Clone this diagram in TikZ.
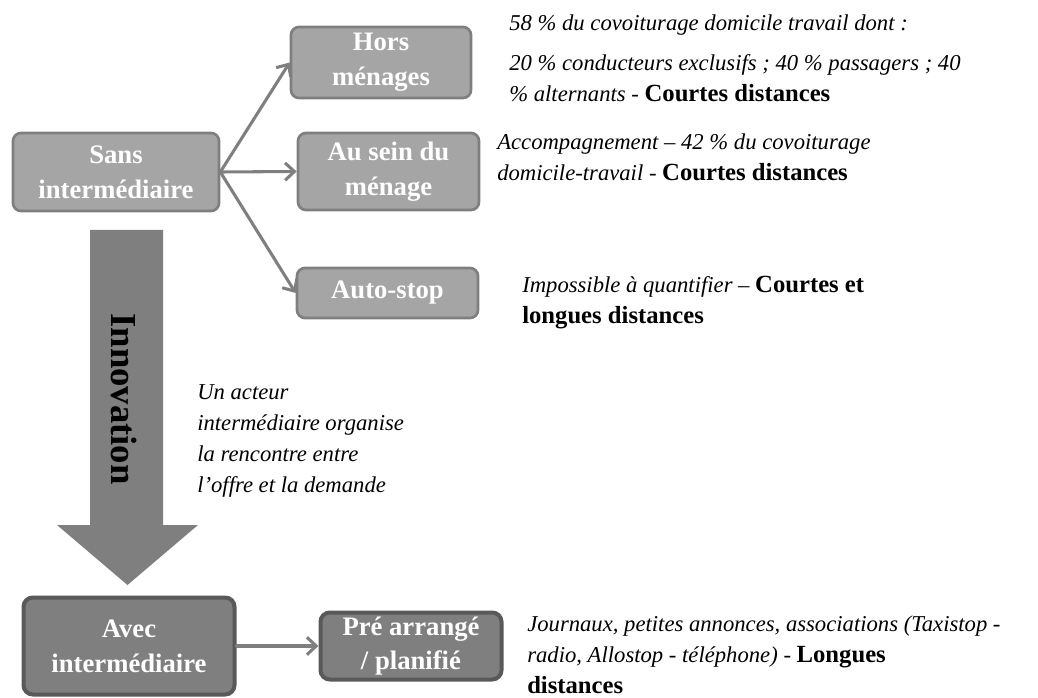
\documentclass[tikz,border=0pt]{standalone}
\usepackage{fontspec}
\setmainfont{Liberation Serif}
\usetikzlibrary{arrows.meta}
\definecolor{lightbox}{HTML}{A5A5A5}
\definecolor{lightedge}{HTML}{7F7F7F}
\definecolor{darkbox}{HTML}{7F7F7F}
\definecolor{darkedge}{HTML}{595959}
\definecolor{arrowgray}{HTML}{7F7F7F}
\newcommand\bdtext[1]{{\fontsize{18.5}{23.3}\selectfont\bfseries\upshape #1}}
\tikzset{
  lbox/.style={draw=lightedge, fill=lightbox, line width=2pt, rounded corners=6pt,
    text=white, align=center, inner sep=2pt,
    font=\fontsize{20}{26}\selectfont\bfseries},
  dbox/.style={draw=darkedge, fill=darkbox, line width=3pt, rounded corners=7pt,
    text=white, align=center, inner sep=2pt,
    font=\fontsize{20}{26}\selectfont\bfseries},
  conn/.style={draw=arrowgray, line width=2.3pt, line cap=round,
    -{Straight Barb[length=7pt,width=13pt,line width=2.3pt]}},
  note/.style={anchor=west, align=left, inner sep=0pt, text=black,
    font=\fontsize{17}{23.3}\selectfont\itshape}
}
\begin{document}
\begin{tikzpicture}[x=0.75pt,y=-0.75pt]
\useasboundingbox (0,0) rectangle (1038,698);
% big innovation arrow
\fill[arrowgray] (90,230) -- (163,230) -- (163,525) -- (198,525) -- (127.5,585)
  -- (57,525) -- (90,525) -- cycle;
\node[rotate=-90, font=\fontsize{27.5}{30}\selectfont\bfseries, text=black] (innov) at (124,399) {Innovation};
% boxes
\node[lbox, minimum width=206*0.75pt, minimum height=78*0.75pt] (sans) at (116,172) {Sans\\interm\'ediaire};
\node[lbox, minimum width=180*0.75pt, minimum height=71*0.75pt] (hors) at (381,62.5) {Hors\\m\'enages};
\node[lbox, minimum width=181*0.75pt, minimum height=77*0.75pt] (sein) at (388.5,171.5) {Au sein du\\m\'enage};
\node[lbox, minimum width=181*0.75pt, minimum height=50*0.75pt] (auto) at (387.5,293) {Auto-stop};
\node[dbox, minimum width=211*0.75pt, minimum height=97*0.75pt] (avec) at (129,646) {Avec\\interm\'ediaire};
\node[dbox, minimum width=181*0.75pt, minimum height=67*0.75pt] (pre) at (411,646) {Pr\'e arrang\'e\\/ planifi\'e};
% connectors
\draw[conn] (sans.east) -- (hors.west);
\draw[conn] (sans.east) -- (sein.west);
\draw[conn] (sans.east) -- (auto.west);
\draw[conn] (avec.east) -- (pre.west);
% notes
\node[note] (n1) at (509,25) {58 \% du covoiturage domicile travail dont :};
\node[note] (n2) at (509,78) {20 \% conducteurs exclusifs ; 40 \% passagers ; 40\\\% alternants - \bdtext{Courtes distances}};
\node[note] (n3) at (497,157) {Accompagnement -- 42 \% du covoiturage\\domicile-travail - \bdtext{Courtes distances}};
\node[note] (n4) at (522,303) {Impossible \`a quantifier -- \bdtext{Courtes et}\\\bdtext{longues distances}};
\node[note] (n5) at (197,441) {Un acteur\\interm\'ediaire organise\\la rencontre entre\\l'offre et la demande};
\node[note] (n6) at (527,655) {Journaux, petites annonces, associations (Taxistop -\\radio, Allostop - t\'el\'ephone) - \bdtext{Longues}\\\bdtext{distances}};
\end{tikzpicture}
\end{document}
